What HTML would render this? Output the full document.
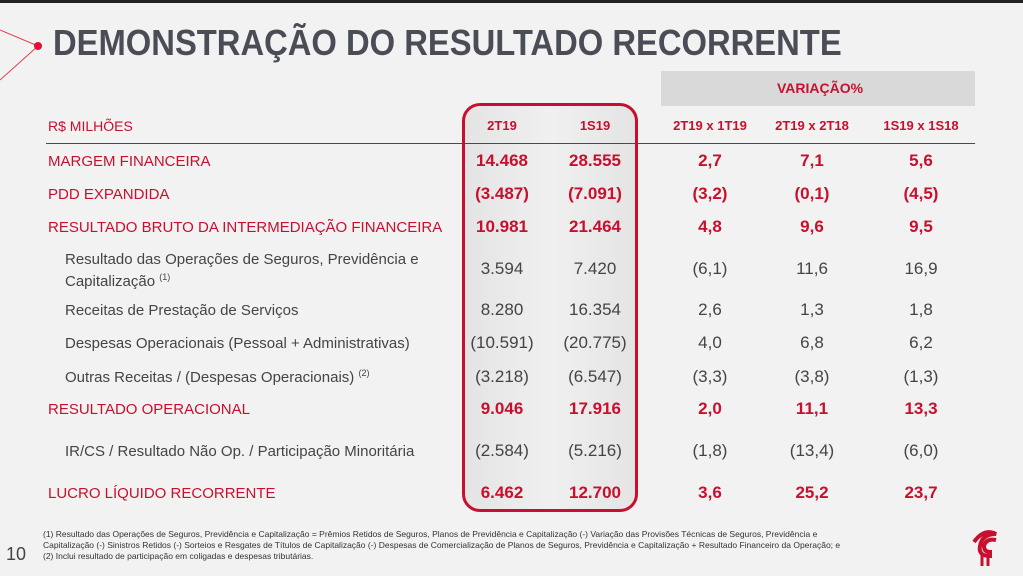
<!DOCTYPE html>
<html><head><meta charset="utf-8"><style>
body{margin:0;width:1023px;height:576px;overflow:hidden;background:#f2f2f2;font-family:"Liberation Sans",sans-serif;position:relative}
.a{position:absolute;white-space:nowrap}
.r{color:#c8102e}
.g{color:#444}
.b{font-weight:bold}
.c{transform:translateX(-50%)}
.lab{font-size:15px}
.num{font-size:17px}
sup{font-size:9px;line-height:0;vertical-align:6px}
</style></head><body>
<div class="a" style="left:0;top:0;width:1023px;height:3px;background:#222"></div>
<svg class="a" style="left:0;top:0" width="60" height="90"><line x1="0" y1="30" x2="38" y2="46" stroke="#d44" stroke-width="1"/><line x1="38" y1="46" x2="0" y2="80" stroke="#d44" stroke-width="1"/><circle cx="38" cy="46" r="4" fill="#e0103a"/></svg>
<div class="a b" style="left:53px;top:22px;font-size:36px;color:#4a4d55;transform:scaleX(0.91);transform-origin:left">DEMONSTRAÇÃO DO RESULTADO RECORRENTE</div>
<div class="a" style="left:661px;top:71px;width:314px;height:35px;background:#d9d9d9"></div>
<div class="a r b c" style="left:820px;top:80px;font-size:14px">VARIAÇÃO%</div>
<div class="a" style="left:462px;top:103px;width:170px;height:403px;border:3px solid #c8102e;border-radius:18px;background:linear-gradient(90deg,#e4e4e4,#f0f0f0 50%,#e4e4e4)"></div>
<div class="a" style="left:46px;top:143px;width:929px;height:1px;background:#c8102e"></div>
<div class="a r lab" style="left:48px;top:118px;font-size:14px">R$ MILHÕES</div>
<div id="t"></div>
<div class="a" style="left:6px;top:544px;font-size:18px;color:#444">10</div>
<div class="a" style="left:43px;top:529px;font-size:8.5px;line-height:11px;color:#333;white-space:normal;width:880px">(1) Resultado das Operações de Seguros, Previdência e Capitalização = Prêmios Retidos de Seguros, Planos de Previdência e Capitalização (-) Variação das Provisões Técnicas de Seguros, Previdência e<br>Capitalização (-) Sinistros Retidos (-) Sorteios e Resgates de Títulos de Capitalização (-) Despesas de Comercialização de Planos de Seguros, Previdência e Capitalização + Resultado Financeiro da Operação; e<br>(2) Inclui resultado de participação em coligadas e despesas tributárias.</div>
<svg class="a" style="left:968px;top:526px" width="34" height="40"><path d="M6 16 Q16 2 28 8 Q14 8 12 20 Q10 30 22 30 L22 26 Q16 26 16 20 Q18 12 28 14" fill="none" stroke="#c8102e" stroke-width="4"/><line x1="14" y1="28" x2="14" y2="40" stroke="#c8102e" stroke-width="3"/><line x1="20" y1="30" x2="20" y2="40" stroke="#c8102e" stroke-width="3"/></svg>
<script>
const cols=[502,595,710,812,921];
const headers=["2T19","1S19","2T19 x 1T19","2T19 x 2T18","1S19 x 1S18"];
const labels=["MARGEM FINANCEIRA","PDD EXPANDIDA","RESULTADO BRUTO DA INTERMEDIAÇÃO FINANCEIRA","Resultado das Operações de Seguros, Previdência e<br>Capitalização <sup>(1)</sup>","Receitas de Prestação de Serviços","Despesas Operacionais (Pessoal + Administrativas)","Outras Receitas / (Despesas Operacionais) <sup>(2)</sup>","RESULTADO OPERACIONAL","IR/CS / Resultado Não Op. / Participação Minoritária","LUCRO  LÍQUIDO RECORRENTE"];
const bold=[1,1,1,0,0,0,0,1,0,1];
const rowY=[161,194,227,269,310,343,377,409,451,493];
const vals=[["14.468","28.555","2,7","7,1","5,6"],["(3.487)","(7.091)","(3,2)","(0,1)","(4,5)"],["10.981","21.464","4,8","9,6","9,5"],["3.594","7.420","(6,1)","11,6","16,9"],["8.280","16.354","2,6","1,3","1,8"],["(10.591)","(20.775)","4,0","6,8","6,2"],["(3.218)","(6.547)","(3,3)","(3,8)","(1,3)"],["9.046","17.916","2,0","11,1","13,3"],["(2.584)","(5.216)","(1,8)","(13,4)","(6,0)"],["6.462","12.700","3,6","25,2","23,7"]];
const t=document.getElementById('t');
headers.forEach((h,i)=>{const d=document.createElement('div');d.className='a r b c';d.style.cssText=`left:${cols[i]}px;top:118px;font-size:13px`;d.textContent=h;


t.appendChild(d);});
labels.forEach((l,r)=>{const d=document.createElement('div');const two=l.includes('<br>');
d.className='a lab '+(bold[r]?'r':'g');d.style.cssText=`left:${bold[r]?48:65}px;top:${rowY[r]-(two?20:10)}px;line-height:22px`;d.innerHTML=l;


t.appendChild(d);
vals[r].forEach((v,i)=>{const e=document.createElement('div');e.className='a c num '+(bold[r]?'r b':'g');e.style.cssText=`left:${cols[i]}px;top:${rowY[r]-10}px`;e.textContent=v;


t.appendChild(e);});});
</script>
</body></html>
